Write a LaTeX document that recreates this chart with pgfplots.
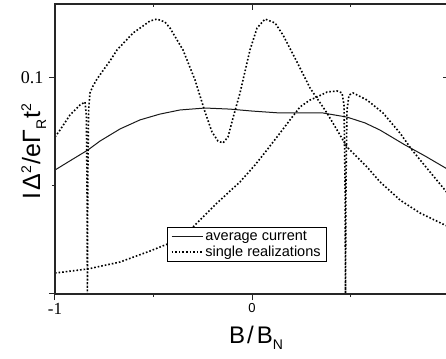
\documentclass[border=0pt]{standalone}
\usepackage{fontspec}
\setmainfont{Liberation Sans}
\newfontfamily\arial{Liberation Sans}
\newfontfamily\tnr{Liberation Serif}
\usepackage{pgfplots}
\pgfplotsset{compat=1.18}
\newcommand\sups[1]{\raisebox{9pt}{\fontsize{14}{14}\selectfont #1}}
\newcommand\subs[1]{\raisebox{-6pt}{\fontsize{14}{14}\selectfont #1}}
\begin{document}
\begin{tikzpicture}
\pgfplotsset{
  common/.style={
    at={(0pt,0pt)}, anchor=south west,
    scale only axis, width=394pt, height=290pt,
    xmin=-1, xmax=1, ymin=0, ymax=0.13426,
    xtick={-1,0,1}, minor xtick={-0.5,0.5},
    ytick={0,0.1}, minor ytick={0.05},
    major tick length=6pt, minor tick length=3pt,
    axis line style={line width=1.4pt, color=black!85},
    every tick/.style={line width=1pt, color=black!85},
  }
}
\begin{axis}[common,
  tick align=outside, xtick pos=bottom, ytick pos=left,
  xticklabels={{\tnr\fontsize{17}{17}\selectfont -1},{\arial\fontsize{13}{13}\selectfont 0},{\arial\fontsize{13}{13}\selectfont 1}},
  yticklabels={,{\tnr\fontsize{18}{18}\selectfont 0.1}},
  yticklabel style={xshift=-2pt},
  legend style={at={(rel axis cs:0.284,0.231)}, anchor=north west, draw=black, line width=0.8pt,
    font=\arial\fontsize{14.5}{15.5}\selectfont, inner xsep=3.5pt, inner ysep=1.5pt, row sep=0pt,
    cells={anchor=west}},
  legend image code/.code={\draw[#1] (0pt,0pt) -- (31pt,0pt);},
]
\addplot[black!90, line width=1pt] coordinates {
(-1.000,0.0574) (-0.9086,0.0625) (-0.8325,0.0667) (-0.7716,0.0708) (-0.6701,0.0764)
(-0.5685,0.0806) (-0.4670,0.0833) (-0.3655,0.0852) (-0.2386,0.0861) (-0.1117,0.0856)
(0.0000,0.0847) (0.1421,0.0838) (0.2437,0.0838) (0.3604,0.0838) (0.4822,0.0819)
(0.5736,0.0792) (0.6497,0.0759) (0.7766,0.0690) (0.8782,0.0639) (1.0000,0.0574)
};
\addlegendentry{average current}
\addplot[black, line width=1.6pt, dotted] coordinates {
(-1.000,0.0727) (-0.9746,0.0759) (-0.9239,0.0829) (-0.8731,0.0875) (-0.8477,0.0889)
(-0.8411,0.0829) (-0.8376,0.0528) (-0.8355,0.0) (-0.8335,0.0528) (-0.8294,0.0852)
(-0.8223,0.0931) (-0.8071,0.0963) (-0.7868,0.0995) (-0.7614,0.1028) (-0.7208,0.1079)
(-0.6853,0.1130) (-0.6041,0.1208) (-0.5178,0.1264) (-0.4822,0.1273) (-0.4416,0.1259)
(-0.4162,0.1231) (-0.3503,0.1130) (-0.2893,0.0991) (-0.2386,0.0843) (-0.2030,0.0750)
(-0.1726,0.0708) (-0.1472,0.0699) (-0.1218,0.0727) (-0.0964,0.0815) (-0.0609,0.0931)
(-0.0102,0.1130) (0.0254,0.1231) (0.0660,0.1273) (0.1168,0.1255) (0.1574,0.1199)
(0.2284,0.1074) (0.2944,0.0954) (0.3807,0.0838) (0.4822,0.0681) (0.5838,0.0588)
(0.6497,0.0519) (0.7513,0.0435) (0.8528,0.0375) (0.9797,0.0319) (1.0000,0.0310)
};
\addlegendentry{single realizations}
\addplot[black, line width=1.6pt, dotted, forget plot] coordinates {
(-1.000,0.0097) (-0.8325,0.0116) (-0.6701,0.0148) (-0.5178,0.0199) (-0.4162,0.0236)
(-0.2995,0.0310) (-0.1777,0.0421) (-0.0609,0.0519) (0.0152,0.0597) (0.0761,0.0667)
(0.1421,0.0745) (0.1929,0.0806) (0.2437,0.0866) (0.2944,0.0898) (0.3299,0.0912)
(0.3807,0.0935) (0.4315,0.0940) (0.4569,0.0931) (0.4670,0.0875) (0.4721,0.0528)
(0.4746,0.0) (0.4772,0.0528) (0.4822,0.0852) (0.4924,0.0921) (0.5127,0.0931)
(0.5838,0.0898) (0.6650,0.0838) (0.7513,0.0745) (0.8122,0.0667) (0.8782,0.0593)
(0.9797,0.0481) (1.0000,0.0458)
};
\end{axis}
\begin{axis}[common,
  tick align=inside, xtick pos=top, ytick pos=right,
  xticklabels={}, yticklabels={},
]
\end{axis}
\node[rotate=90, anchor=base] at (-15pt,142pt)
  {\arial\fontsize{25}{25}\selectfont I\hspace{3pt}Δ\sups{2}\hspace{1pt}/eΓ\subs{R}\hspace{1pt}t\sups{2}};
\node[anchor=base] at (201pt,-49pt)
  {\arial\fontsize{24}{24}\selectfont B\hspace{2pt}/\hspace{3pt}B\subs{N}};
\pgfresetboundingbox
\useasboundingbox (-55pt,-64pt) rectangle (391pt,294pt);
\end{tikzpicture}
\end{document}
